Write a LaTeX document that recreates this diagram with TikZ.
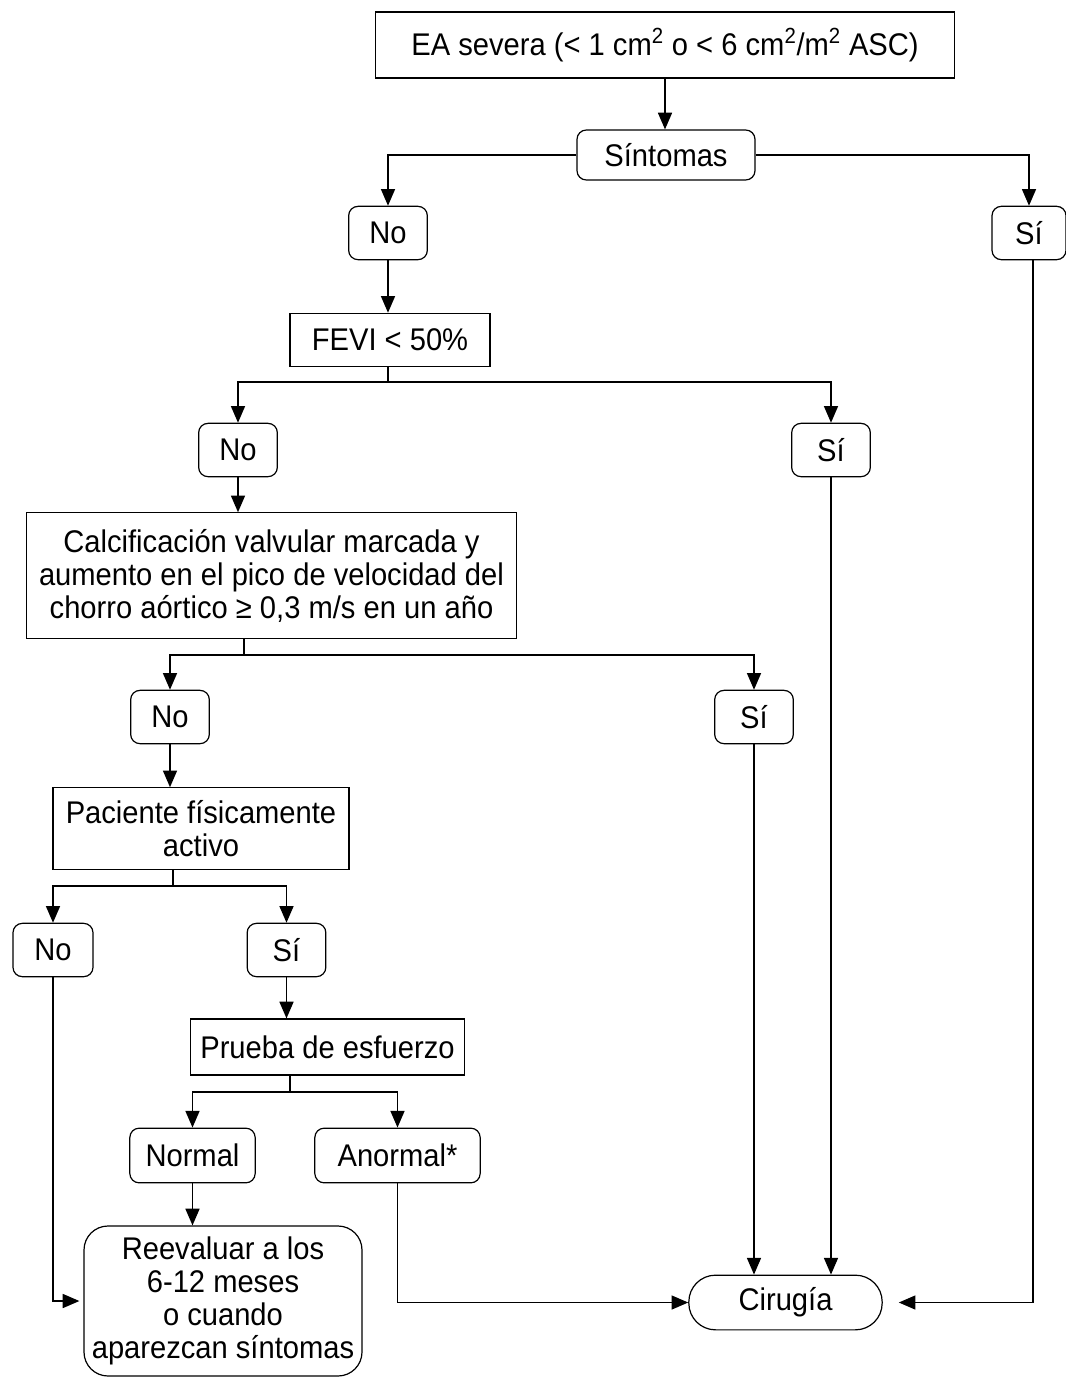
\documentclass[tikz,border=0pt]{standalone}
\usepackage{fontspec}
\setmainfont[FakeStretch=0.93]{Liberation Sans}
\usetikzlibrary{arrows.meta}

\begin{document}
\begin{tikzpicture}[x=0.75pt, y=-0.75pt,
    every node/.style={draw, line width=0.9pt, inner sep=2pt, align=center,
        font=\fontsize{23.5}{24.75}\selectfont},
    caja/.style={rectangle},
    opcion/.style={rectangle, rounded corners=7pt, minimum width=59pt, minimum height=40pt},
    flecha/.style={-{Triangle[length=12.5pt,width=10.5pt]}},
    every path/.style={line width=1.1pt}]
            \useasboundingbox (0,0) rectangle (1066,1378);

            % Nodes
            \node[caja, minimum width=434pt, minimum height=49.5pt] (ea) at (665,45)
                {EA severa (< 1 cm\textsuperscript{2} o < 6 cm\textsuperscript{2}/m\textsuperscript{2} ASC)};
            \node[opcion, minimum width=133.5pt, minimum height=37.5pt] (sint) at (666,155) {Síntomas};
            \node[opcion] (no1) at (388,233) {No};
            \node[opcion, minimum width=55.5pt] (si1) at (1029,233) {Sí};
            \node[caja, minimum width=150pt, minimum height=40pt] (fevi) at (390,340) {FEVI < 50\%};
            \node[opcion] (no2) at (238,450) {No};
            \node[opcion] (si2) at (831,450) {Sí};
            \node[caja, minimum width=367pt, minimum height=94pt] (calc) at (271.5,575.5)
                {Calcificación valvular marcada y\\aumento en el pico de velocidad del\\chorro aórtico ≥ 0,3 m/s en un año};
            \node[opcion] (no3) at (170,717) {No};
            \node[opcion] (si3) at (754,717) {Sí};
            \node[caja, minimum width=222pt, minimum height=61pt] (pac) at (201,828.5)
                {Paciente físicamente\\activo};
            \node[opcion, minimum width=60pt] (no4) at (53,950) {No};
            \node[opcion] (si4) at (286.5,950) {Sí};
            \node[caja, minimum width=206pt, minimum height=42pt] (prueba) at (327.5,1047) {Prueba de esfuerzo};
            \node[opcion, minimum width=94pt, minimum height=41pt] (normal) at (192.5,1155.5) {Normal};
            \node[opcion, minimum width=124pt, minimum height=41pt] (anor) at (397.5,1155.5) {Anormal*};
            \node[opcion, rounded corners=18pt, minimum width=208.5pt, minimum height=112.5pt] (reev) at (223,1301)
                {Reevaluar a los\\6-12 meses\\o cuando\\aparezcan síntomas};
            \node[opcion, rounded corners=20pt, minimum width=145pt, minimum height=41pt] (cir) at (785.5,1302.5) {Cirugía};

            % branch points
            \coordinate (r1) at (388,382);
            \coordinate (r3) at (244,655);
            \coordinate (r4) at (173,886);
            \coordinate (r5) at (290,1092);

            % Edges
            \draw[flecha] (ea.south) -- (sint.north -| ea.south);
            \draw[flecha] (sint.west) -| (no1.north);
            \draw[flecha] (sint.east) -| (si1.north);
            \draw[flecha] (no1) -- (fevi.north -| no1);
            \draw (fevi.south -| r1) -- (r1);
            \draw[flecha] (r1) -| (no2.north);
            \draw[flecha] (r1) -| (si2.north);
            \draw[flecha] (no2) -- (calc.north -| no2);
            \draw (calc.south -| r3) -- (r3);
            \draw[flecha] (r3) -| (no3.north);
            \draw[flecha] (r3) -| (si3.north);
            \draw[flecha] (no3) -- (pac.north -| no3);
            \draw (pac.south -| r4) -- (r4);
            \draw[flecha] (r4) -| (no4.north);
            \draw[flecha] (r4) -| (si4.north);
            \draw[flecha] (si4) -- (prueba.north -| si4);
            \draw (prueba.south -| r5) -- (r5);
            \draw[flecha] (r5) -| (normal.north);
            \draw[flecha] (r5) -| (anor.north);
            \draw[flecha] (normal) -- (reev.north -| normal);
            \draw[flecha, shorten >=3pt] (no4.south) |- (reev.west);
            \draw[flecha] (anor.south) |- (cir.west);
            \draw[flecha] (si3.south) -- (si3.south |- cir.north);
            \draw[flecha] (si2.south) -- (si2.south |- cir.north);
            \draw[flecha, shorten >=12pt] ([xshift=3pt]si1.south) |- (cir.east);
        \end{tikzpicture}
\end{document}
